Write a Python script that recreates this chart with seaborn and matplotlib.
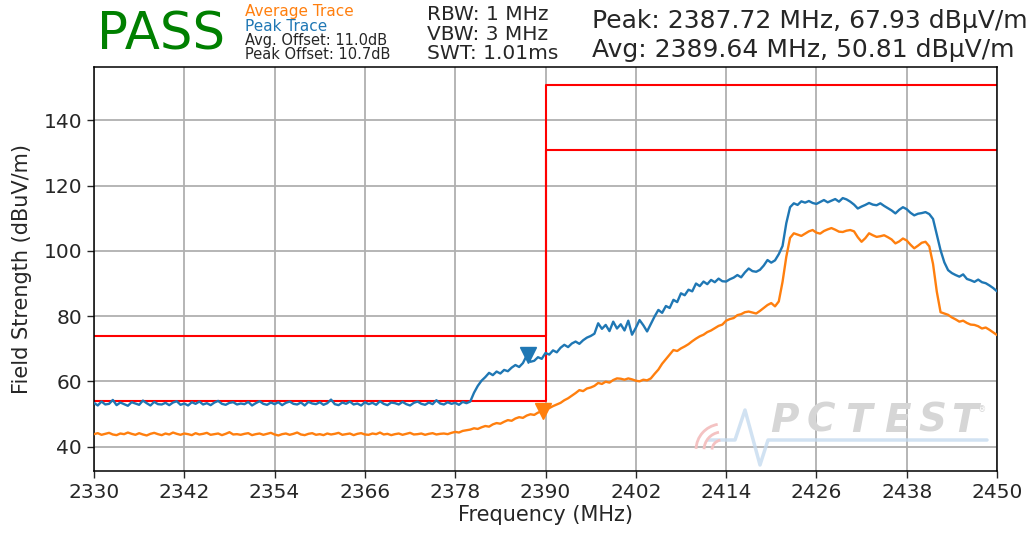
import matplotlib
matplotlib.use('Agg')
import matplotlib.pyplot as plt
from matplotlib.transforms import Affine2D
from matplotlib.patches import Arc
import seaborn as sns
import numpy as np

sns.set_style("ticks")
plt.rcParams['font.family'] = ['DejaVu Sans']

W, H = 1029, 533

# sweep: 2330 .. 2450 MHz, 0.5 MHz per point
freq = np.arange(2330, 2450.01, 0.5)

peak_trace = [
    53.4, 52.6, 53.8, 52.9, 53.1, 54.3, 52.7, 53.5, 53.0, 52.5,
    53.6, 53.2, 52.8, 54.1, 53.3, 52.6, 53.7, 53.0, 52.9, 53.4,
    52.7, 53.5, 53.9, 52.8, 53.2, 52.6, 53.6, 53.1, 53.8, 52.9,
    53.3, 52.7, 53.5, 54.0, 53.1, 52.8, 53.4, 53.6, 52.9, 53.2,
    53.0, 53.7, 52.6, 53.3, 53.9, 53.1, 52.8, 53.5, 53.0, 53.6,
    52.7, 53.4, 53.8, 53.1, 52.9, 53.5, 52.6, 53.7, 53.2, 53.0,
    53.6, 52.8, 53.3, 54.4, 53.0, 52.7, 53.5, 53.1, 53.8, 52.9,
    53.2, 52.6, 53.6, 53.0, 53.4, 52.8, 53.9, 53.1, 52.7, 53.5,
    53.3, 52.9, 53.7, 53.0, 52.6, 53.4, 53.8, 53.1, 52.8, 53.5,
    53.0, 54.2, 53.2, 52.9, 53.6, 53.1, 53.4, 52.8, 53.7, 53.3,
    53.8, 56.5, 58.6, 60.2, 61.3, 62.6, 61.9, 63.0, 62.4, 63.5,
    63.1, 64.2, 65.0, 64.4, 65.6, 67.9, 66.0, 66.3, 67.4, 66.9,
    68.7, 68.2, 69.5, 68.9, 70.3, 71.2, 70.5, 71.6, 72.2, 71.5,
    72.6, 73.4, 73.9, 74.6, 77.8, 76.1, 77.3, 75.4, 78.3, 76.2,
    77.5, 75.6, 78.6, 74.3, 76.4, 78.8, 77.2, 75.3, 77.6, 79.9,
    81.9, 81.0, 83.1, 82.5, 85.0, 84.3, 87.0, 86.4, 88.1, 87.6,
    90.0, 89.2, 90.6, 89.8, 91.1, 90.4, 91.5, 90.7, 90.6, 91.3,
    91.8, 92.6, 91.9, 93.4, 94.6, 93.8, 93.6, 94.2, 95.5, 97.2,
    96.4, 97.1, 99.0, 101.5, 108.5, 113.4, 114.6, 114.1, 115.2, 114.8,
    115.3, 114.7, 114.4, 115.0, 115.6, 114.9, 115.4, 115.9, 115.1, 116.2,
    115.8, 115.1, 114.2, 113.0, 113.6, 114.1, 114.7, 114.2, 114.0, 114.6,
    113.8, 113.1, 112.4, 111.5, 112.6, 113.4, 112.8, 111.7, 110.9, 111.4,
    111.6, 111.9, 111.3, 109.8, 105.0, 100.2, 96.5, 94.1, 93.2, 92.6,
    92.1, 92.8, 91.4, 91.0, 90.5, 91.2, 90.4, 90.1, 89.4, 88.6,
    87.6,
]

avg_trace = [
    43.8, 44.1, 43.6, 43.9, 44.2, 43.7, 43.5, 44.0, 43.8, 44.3,
    43.9, 43.6, 44.1, 43.7, 43.4, 43.9, 44.2, 43.8, 43.5, 44.0,
    43.7, 44.3, 43.9, 43.6, 44.0, 43.8, 43.5, 44.1, 43.7, 43.9,
    44.2, 43.6, 43.8, 44.0, 43.5, 43.9, 44.4, 43.7, 43.8, 43.6,
    43.9, 44.1, 43.5, 43.8, 44.0, 43.6, 43.9, 44.2, 43.7, 43.4,
    43.8, 44.0, 43.6, 43.9, 44.3, 43.7, 43.5, 43.9, 44.1, 43.6,
    43.8, 43.5, 44.0, 43.7, 43.9, 44.2, 43.6, 43.8, 44.0, 43.5,
    43.9, 44.1, 43.7, 43.6, 44.0, 43.8, 44.3, 43.7, 43.9, 43.5,
    43.8, 44.0, 43.6, 43.9, 44.2, 43.7, 43.8, 44.0, 43.6, 43.9,
    44.1, 43.7, 43.9, 44.0, 43.8, 44.2, 44.5, 44.3, 44.8, 45.0,
    45.2, 45.6, 45.4, 45.9, 46.3, 46.1, 46.8, 47.2, 47.0, 47.6,
    48.1, 47.9, 48.6, 49.0, 48.8, 49.5, 49.9, 49.7, 50.4, 50.8,
    51.3, 51.8, 52.4, 52.9, 53.4, 54.2, 54.8, 55.6, 56.4, 57.3,
    57.0, 57.8, 58.1, 58.6, 59.5, 59.2, 59.9, 59.6, 60.4, 60.9,
    60.8, 60.5, 60.9, 60.6, 60.2, 60.0, 60.5, 60.3, 60.9, 62.3,
    63.6, 65.4, 66.8, 68.2, 69.6, 69.3, 70.1, 70.7, 71.4, 72.3,
    73.1, 73.8, 74.3, 75.1, 75.6, 76.3, 77.0, 77.4, 78.6, 79.1,
    79.4, 80.3, 80.6, 81.2, 81.4, 81.1, 80.8, 81.6, 82.5, 83.4,
    84.0, 83.0, 84.5, 90.5, 98.2, 104.0, 105.4, 105.0, 104.6, 105.3,
    106.0, 106.4, 105.6, 105.3, 106.1, 106.6, 107.0, 106.5, 105.9, 105.8,
    106.2, 106.4, 106.0, 104.2, 102.8, 103.9, 105.4, 104.8, 104.3, 104.5,
    104.8, 104.2, 103.5, 102.3, 102.9, 103.8, 103.2, 101.9, 100.8, 101.6,
    102.5, 102.8, 101.4, 96.0, 87.5, 81.2, 80.8, 80.4, 79.6, 79.0,
    78.3, 78.6, 77.9, 77.4, 77.3, 76.9, 76.2, 76.5, 75.8, 75.0,
    74.2,
]

# limit lines (step at band edge)
limit_freq = [2330, 2390, 2390, 2450]
peak_limit = [74, 74, 151, 151]
avg_limit = [54, 54, 131, 131]

# markers
peak_marker = (2387.72, 67.93)
avg_marker = (2389.64, 50.81)

x_ticks = list(range(2330, 2451, 12))
y_ticks = [40, 60, 80, 100, 120, 140]

BLUE = '#1f77b4'
ORANGE = '#ff7f0e'

fig = plt.figure(figsize=(W / 100, H / 100), dpi=100)
ax = fig.add_axes([94 / W, 1 - 471 / H, (997 - 94) / W, (471 - 67) / H])

# pixel coords (y down) -> figure
pix = Affine2D().scale(1 / W, -1 / H).translate(0, 1) + fig.transFigure

# watermark (logo)
ax.plot([708, 735, 745, 760, 768, 987], [440, 440, 410, 465, 440, 440],
        transform=pix, color='#c6dbef', lw=2.5, alpha=0.8, zorder=0.6, clip_on=False)
for r in (10, 18, 26):
    fig.add_artist(Arc((722 / W, 1 - 450 / H), 2 * r / W, 2 * r / H, theta1=95, theta2=175,
                       transform=fig.transFigure, color='#f4c2c2', lw=2, zorder=0.6))
for ch, xp in zip('PCTEST', [770, 807, 845, 884, 918, 951]):
    fig.text(xp / W, 1 - 432 / H, ch, fontsize=28, fontweight='bold', fontstyle='italic',
             color='#d6d6d6', zorder=0.6)
fig.text(978 / W, 1 - 412 / H, '®', fontsize=6, color='#d6d6d6')

ax.plot(limit_freq, peak_limit, color='red', lw=1.5, zorder=2)
ax.plot(limit_freq, avg_limit, color='red', lw=1.5, zorder=2)

sns.lineplot(x=freq, y=avg_trace, ax=ax, color=ORANGE, linewidth=1.7, estimator=None, zorder=3)
sns.lineplot(x=freq, y=peak_trace, ax=ax, color=BLUE, linewidth=1.7, estimator=None, zorder=3)

ax.plot([peak_marker[0]], [peak_marker[1]], marker='v', ms=12, color=BLUE, ls='none', zorder=4)
ax.plot([avg_marker[0]], [avg_marker[1]], marker='v', ms=12, color=ORANGE, ls='none', zorder=4)

ax.set_xlim(2330, 2450)
ax.set_ylim(32.5, 156.4)
ax.set_xticks(x_ticks)
ax.set_yticks(y_ticks)
ax.tick_params(labelsize=14.5, length=5, width=1, direction='out')
ax.grid(True, color='#b0b0b0', lw=1.3)
for s in ax.spines.values():
    s.set_linewidth(1.1)
    s.set_color('black')
ax.set_xlabel('Frequency (MHz)', fontsize=15, labelpad=2)
ax.set_ylabel('Field Strength (dBuV/m)', fontsize=15, labelpad=8)

# header text
def ftext(x, y, s, **kw):
    fig.text(x / W, 1 - y / H, s, va='baseline', ha='left', **kw)

ftext(97, 50, 'PASS', fontsize=37, color='green')
ftext(245, 16, 'Average Trace', fontsize=11, color=ORANGE)
ftext(245, 31, 'Peak Trace', fontsize=11, color=BLUE)
ftext(245, 45, 'Avg. Offset: 11.0dB', fontsize=10.5)
ftext(245, 59, 'Peak Offset: 10.7dB', fontsize=10.5)
ftext(427, 20, 'RBW: 1 MHz', fontsize=14.5)
ftext(427, 40, 'VBW: 3 MHz', fontsize=14.5)
ftext(427, 59, 'SWT: 1.01ms', fontsize=14.5)
ftext(592, 28, 'Peak: 2387.72 MHz, 67.93 dBµV/m', fontsize=18)
ftext(592, 57, 'Avg: 2389.64 MHz, 50.81 dBµV/m', fontsize=18)

fig.savefig('out.png', dpi=100)
plt.close(fig)
